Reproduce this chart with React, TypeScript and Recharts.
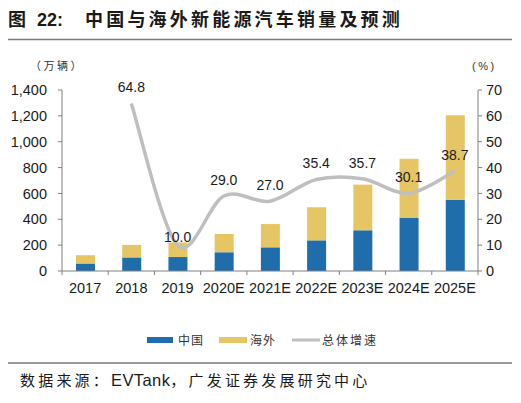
import React from "react";
import { ComposedChart, Bar, Line, XAxis, YAxis } from "recharts";

const categories = ["2017", "2018", "2019", "2020E", "2021E", "2022E", "2023E", "2024E", "2025E"];
const chinaSales = [58, 105, 108, 145, 183, 237, 315, 410, 551];
const overseasSales = [64, 97, 113, 141, 180, 256, 353, 459, 653];
const totalGrowth: (number | null)[] = [null, 64.8, 10.0, 29.0, 27.0, 35.4, 35.7, 30.1, 38.7];
const leftTicks = [0, 200, 400, 600, 800, 1000, 1200, 1400];
const rightTicks = [0, 10, 20, 30, 40, 50, 60, 70];

const data = categories.map((c, i) => ({
  name: c,
  china: chinaSales[i],
  overseas: overseasSales[i],
  growth: totalGrowth[i],
}));

const LATIN = "'Liberation Sans', Arial, sans-serif";
const CJK = "'Noto Sans CJK SC', 'Liberation Sans', sans-serif";
const BLUE = "#1F6DAB";
const YELLOW = "#E6C564";
const GRAY = "#BFBFBF";
const AXIS = "#808080";

// Excel-like smoothed line (Catmull-Rom converted to cubic Bezier)
function excelCurve(context: any) {
  let pts: [number, number][] = [];
  return {
    areaStart() {},
    areaEnd() {},
    lineStart() {
      pts = [];
    },
    lineEnd() {
      const n = pts.length;
      if (!n) return;
      context.moveTo(pts[0][0], pts[0][1]);
      for (let i = 0; i < n - 1; i++) {
        const p0 = pts[Math.max(i - 1, 0)];
        const p1 = pts[i];
        const p2 = pts[i + 1];
        const p3 = pts[Math.min(i + 2, n - 1)];
        const c1x = p1[0] + (p2[0] - p0[0]) / 6;
        const c1y = p1[1] + (p2[1] - p0[1]) / 6;
        const c2x = p2[0] - (p3[0] - p1[0]) / 6;
        const c2y = p2[1] - (p3[1] - p1[1]) / 6;
        context.bezierCurveTo(c1x, c1y, c2x, c2y, p2[0], p2[1]);
      }
    },
    point(x: number, y: number) {
      pts.push([+x, +y]);
    },
  };
}

const CategoryTick = (props: any) => {
  const { x, y, payload, index } = props;
  const half = payload && payload.offset ? payload.offset : 23.1;
  const axisY = y - 12;
  return (
    <g>
      <line x1={x - half} y1={axisY} x2={x - half} y2={axisY + 4} stroke={AXIS} strokeWidth={1} />
      {index === categories.length - 1 && (
        <line x1={x + half} y1={axisY} x2={x + half} y2={axisY + 4} stroke={AXIS} strokeWidth={1} />
      )}
      <text x={x} y={y + 10} textAnchor="middle" fontFamily={LATIN} fontSize={14.5} fill="#1a1a1a">
        {payload.value}
      </text>
    </g>
  );
};

const GrowthLabel = (props: any) => {
  const { x, y, value } = props;
  if (value === null || value === undefined) return null;
  const lift = value < 15 ? 3 : 11;
  return (
    <text x={x} y={y - lift} textAnchor="middle" fontFamily={LATIN} fontSize={14} fill="#1a1a1a">
      {Number(value).toFixed(1)}
    </text>
  );
};

export default function App() {
  return (
    <div style={{ position: "absolute", left: 0, top: 0, width: 521, height: 403, background: "#fff" }}>
      <div style={{ position: "absolute", left: 0, top: 0 }}>
        <ComposedChart
          width={521}
          height={300}
          data={data}
          margin={{ top: 90, right: 0, bottom: 0, left: 0 }}
        >
          <XAxis
            dataKey="name"
            height={29}
            axisLine={{ stroke: AXIS }}
            tickLine={false}
            tickSize={4}
            tickMargin={8}
            interval={0}
            tick={<CategoryTick />}
          />
          <YAxis
            yAxisId="left"
            width={62}
            domain={[0, 1400]}
            ticks={leftTicks}
            interval={0}
            axisLine={{ stroke: AXIS }}
            tickLine={{ stroke: AXIS }}
            tickSize={4}
            tickMargin={11}
            tickFormatter={(v: number) => v.toLocaleString("en-US")}
            tick={{ fontFamily: LATIN, fontSize: 14.5, fill: "#1a1a1a" }}
          />
          <YAxis
            yAxisId="right"
            orientation="right"
            width={43}
            domain={[0, 70]}
            ticks={rightTicks}
            interval={0}
            axisLine={{ stroke: AXIS }}
            tickLine={{ stroke: AXIS }}
            tickSize={4}
            tickMargin={4}
            tick={{ fontFamily: LATIN, fontSize: 14.5, fill: "#1a1a1a", textAnchor: "start" }}
          />
          <Bar yAxisId="left" dataKey="china" stackId="s" fill={BLUE} barSize={19} isAnimationActive={false} />
          <Bar yAxisId="left" dataKey="overseas" stackId="s" fill={YELLOW} barSize={19} isAnimationActive={false} />
          <Line
            yAxisId="right"
            dataKey="growth"
            type={excelCurve as any}
            stroke={GRAY}
            strokeWidth={3.5}
            dot={false}
            activeDot={false}
            isAnimationActive={false}
            label={<GrowthLabel />}
          />
        </ComposedChart>
      </div>
      <svg
        width={521}
        height={403}
        style={{ position: "absolute", left: 0, top: 0, pointerEvents: "none" }}
      >
        <text x={8} y={26} fontFamily={CJK} fontSize={18} fontWeight={700} fill="#1a1a1a">
          图
        </text>
        <text x={37} y={26} fontFamily={LATIN} fontSize={18} fontWeight={700} fill="#1a1a1a">
          22:
        </text>
        <text x={85} y={26} fontFamily={CJK} fontSize={18} fontWeight={700} letterSpacing={3.2} fill="#1a1a1a">
          中国与海外新能源汽车销量及预测
        </text>
        <line x1={8} y1={39.5} x2={512} y2={39.5} stroke="#7a7a7a" strokeWidth={1.5} />

        <text x={30} y={70} fontFamily={CJK} fontSize={11} letterSpacing={2.5} fill="#333">
          （万辆）
        </text>
        <text x={472} y={70} fontFamily={LATIN} fontSize={11} letterSpacing={2.5} fill="#333">
          (%)
        </text>

        <rect x={147} y={337} width={26} height={6} fill={BLUE} />
        <text x={178} y={345} fontFamily={CJK} fontSize={12} letterSpacing={1} fill="#333">
          中国
        </text>
        <rect x={219} y={337} width={28} height={6} fill={YELLOW} />
        <text x={250} y={345} fontFamily={CJK} fontSize={12} letterSpacing={1} fill="#333">
          海外
        </text>
        <line x1={292} y1={340} x2={320} y2={340} stroke={GRAY} strokeWidth={3} />
        <text x={322} y={345} fontFamily={CJK} fontSize={12} letterSpacing={2} fill="#333">
          总体增速
        </text>

        <line x1={8} y1={363} x2={512} y2={363} stroke="#7a7a7a" strokeWidth={1.5} />
        <text x={20} y={386} fontSize={15} fill="#1a1a1a">
          <tspan fontFamily={CJK} letterSpacing={3.2}>数据来源：</tspan>
          <tspan fontFamily={LATIN} fontSize={16.5} letterSpacing={0.4}>EVTank</tspan>
          <tspan fontFamily={CJK} letterSpacing={3.2}>，广发证券发展研究中心</tspan>
        </text>
      </svg>
    </div>
  );
}
